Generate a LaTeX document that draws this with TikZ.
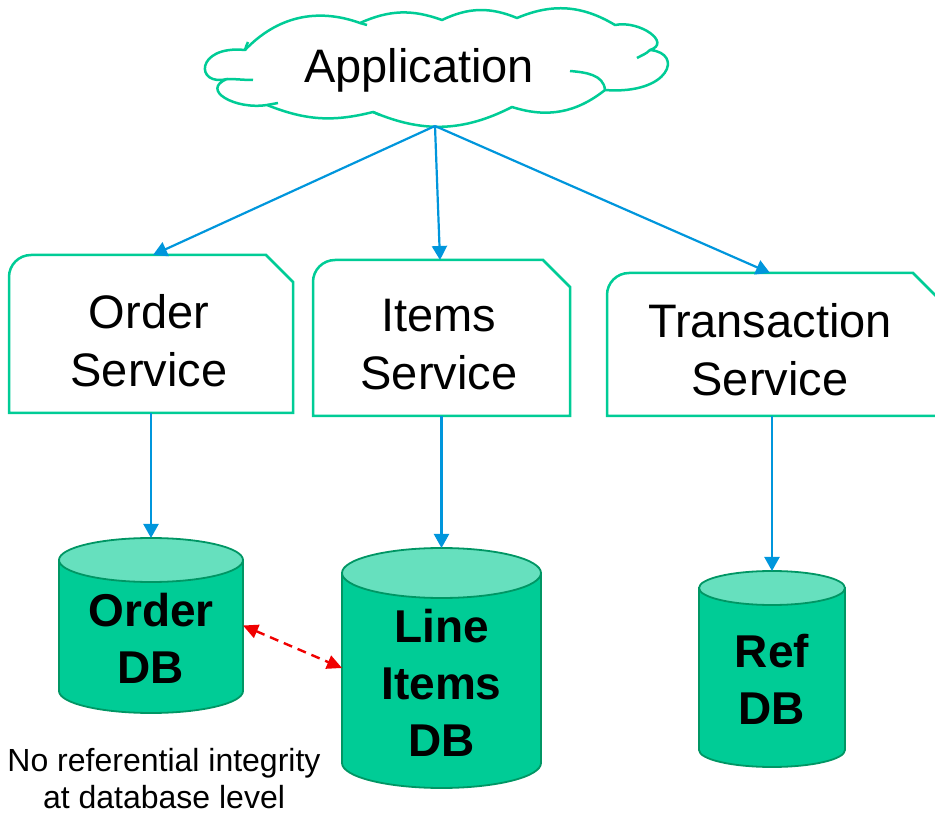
\documentclass[tikz,border=0pt]{standalone}
\usepackage{fontspec}
\setmainfont{Liberation Sans}
\usetikzlibrary{arrows.meta,calc}
\definecolor{boxgreen}{RGB}{0,204,150}
\definecolor{dbbody}{RGB}{0,204,150}
\definecolor{dbtop}{RGB}{102,224,190}
\definecolor{dbline}{RGB}{0,150,100}
\definecolor{arrblue}{RGB}{0,150,220}
\definecolor{arrred}{RGB}{240,0,0}
\newcommand\snipshape[1]{%
  \draw[boxline] (#1.south west) -- ($(#1.north west)+(0,-22pt)$)
    arc[start angle=180,end angle=90,radius=22pt]
    -- ($(#1.north east)+(-27pt,0)$) -- ($(#1.north east)+(0,-27pt)$)
    -- (#1.south east) -- cycle;}
\newcommand\dbcyl[3]{%
  \draw[dbborder,fill=dbbody] ($(#1.north west)+(0,-#3)$) -- ($(#1.south west)+(0,#3)$)
    arc[start angle=180,end angle=360,x radius=#2,y radius=#3]
    -- ($(#1.north east)+(0,-#3)$) -- cycle;
  \draw[dbborder,fill=dbtop] ($(#1.north)+(0,-#3)$) ellipse[x radius=#2,y radius=#3];}
\begin{document}
\begin{tikzpicture}[x=1pt,y=1pt,
  boxline/.style={draw=boxgreen,line width=2.5pt,line join=miter},
  cloudline/.style={draw=boxgreen,line width=2.5pt,line join=round},
  dbborder/.style={draw=dbline,line width=1.8pt},
  frame/.style={inner sep=0pt,outer sep=0pt},
  svctext/.style={align=center,font=\fontsize{47}{58}\selectfont},
  dbtext/.style={align=center,font=\fontsize{46}{57}\selectfont\bfseries},
  flow/.style={draw=arrblue,line width=2.2pt,-{Triangle[length=14pt,width=15pt]}},
  noref/.style={draw=arrred,line width=2.4pt,dash pattern=on 9pt off 6pt,
    {Triangle[length=15pt,width=14pt]}-{Triangle[length=15pt,width=14pt]}}]
\useasboundingbox (0,0) rectangle (935,815);
% cloud
\draw[cloudline,fill=white] (245,765) to[bend left=33] (360,792)
  to[bend left=22] (442,795) to[bend left=24] (517,797)
  to[bend left=27] (615,790)
  .. controls (640,795) and (672,772) .. (650,765)
  .. controls (684,762) and (670,720) .. (605,725)
  to[bend left=28] (512,708)
  to[bend left=25] (373,703) to[bend left=18] (267,710)
  .. controls (235,705) and (200,725) .. (227,736)
  .. controls (195,728) and (195,770) .. (245,765) -- cycle;
\draw[cloudline] (570,744) to[out=-5,in=95] (605,725);
\draw[cloudline] (637,757) to[out=30,in=225] (650,765);
\draw[cloudline] (227,736) to[out=0,in=180] (253,735);
\draw[cloudline] (245,765) to[out=80,in=250] (248,773);
\draw[cloudline] (360,792) -- (367,790);
\draw[cloudline] (373,703) -- (380,700);
\draw[cloudline] (267,710) -- (278,712);
\node[font=\fontsize{47}{56}\selectfont,inner sep=0pt] (app) at (419,745) {Application};
% service boxes
\node[frame,minimum width=284pt,minimum height=158pt] (os) at (151,481) {};
\node[frame,minimum width=257pt,minimum height=156pt] (is) at (441.5,477) {};
\node[frame,minimum width=333pt,minimum height=143pt] (ts) at (773.5,470.5) {};
\snipshape{os}\snipshape{is}\snipshape{ts}
\node[svctext] (ost) at (149,474) {Order\\Service};
\node[svctext] (ist) at (439,470.5) {Items\\Service};
\node[svctext] (tst) at (770,465.5) {Transaction\\Service};
% databases
\node[frame,minimum width=184pt,minimum height=175pt] (odb) at (151,189.5) {};
\node[frame,minimum width=199pt,minimum height=240pt] (lidb) at (441.5,147) {};
\node[frame,minimum width=146pt,minimum height=196pt] (rdb) at (772,146) {};
\dbcyl{odb}{92pt}{22pt}
\dbcyl{lidb}{99.5pt}{25pt}
\dbcyl{rdb}{73pt}{17pt}
\node[dbtext] (odbt) at (151,176.5) {Order\\DB};
\node[dbtext] (lidbt) at (441.5,132.5) {Line\\Items\\DB};
\node[dbtext] (rdbt) at (772,135.5) {Ref\\DB};
% connectors
\coordinate (src) at (435,689);
\draw[flow] (src) -- (153,560);
\draw[flow] (src) -- (440,555);
\draw[flow] (src) -- (tst.center |- ts.north);
\draw[flow] (os.south) -- (odb.north);
\draw[flow] (lidb.north |- is.south) -- (lidb.north);
\draw[flow] (rdb.north |- ts.south) -- (rdb.north);
\draw[noref] (odb.east) -- (lidb.west);
% note
\node[align=center,font=\fontsize{32}{37}\selectfont] (note) at (164,36)
  {No referential integrity\\at database level};
\end{tikzpicture}
\end{document}
